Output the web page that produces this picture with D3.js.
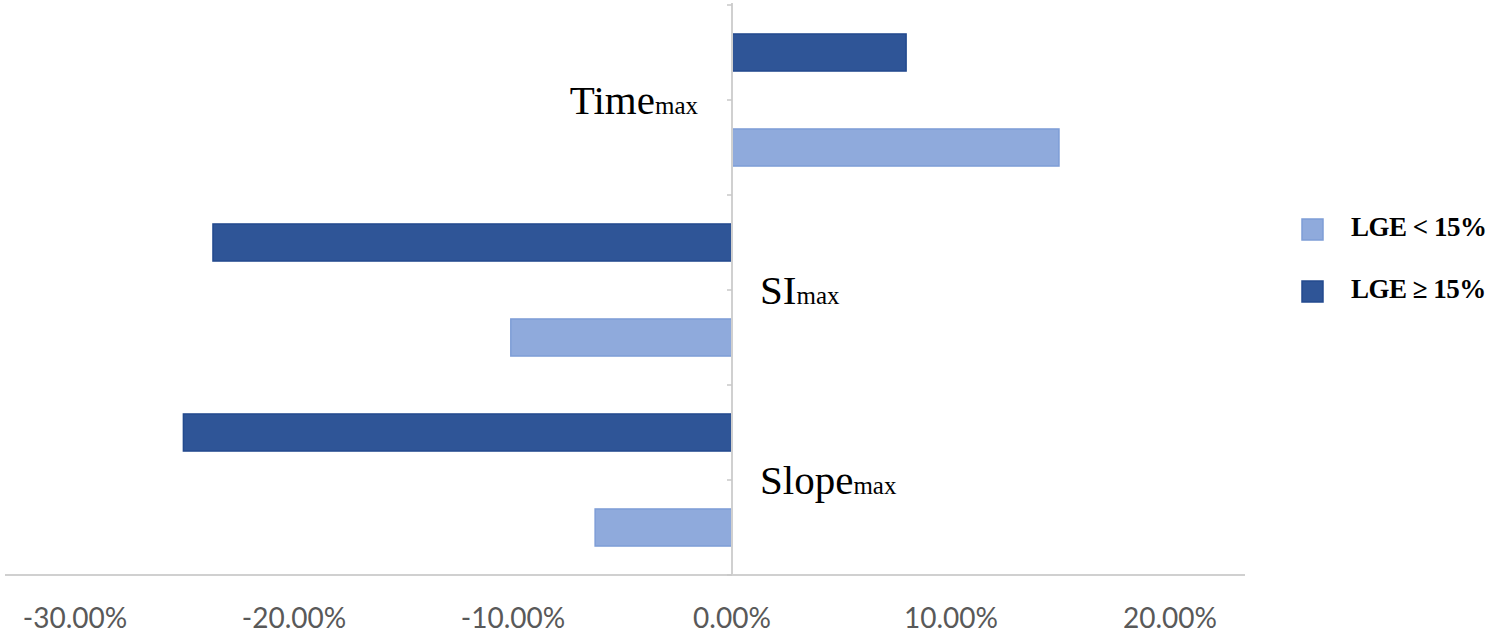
<!DOCTYPE html>
<html>
<head>
<meta charset="utf-8">
<script src="https://cdn.jsdelivr.net/npm/d3@7"></script>
<style>
  html, body { margin: 0; padding: 0; background: #ffffff; }
  svg { display: block; }
</style>
</head>
<body>
<svg id="chart" width="1500" height="640"></svg>
<script>
// ---- data ----
const categories = ["Time", "SI", "Slope"];
const seriesNames = ["LGE ≥ 15%", "LGE < 15%"];       // order of bars inside each category (top, bottom)
const valuesHigh = [7.95, -23.7, -25.05];           // LGE ≥ 15% (%)
const valuesLow  = [14.93, -10.1, -6.25];           // LGE < 15% (%)
const xTicks = [-30, -20, -10, 0, 10, 20];
const legendOrder = ["LGE < 15%", "LGE ≥ 15%"];

const colors = { "LGE ≥ 15%": "#2F5597", "LGE < 15%": "#8FAADC" };
const strokes = { "LGE ≥ 15%": "#234A8E", "LGE < 15%": "#7E9DD6" };

const svg = d3.select("#chart");

const x = d3.scaleLinear().domain([-30, 20]).range([75, 1170]);
const y0 = d3.scaleBand().domain(categories).range([5, 575]).padding(0);
const y1 = d3.scaleBand().domain(seriesNames).range([0, y0.bandwidth()])
  .paddingInner(0.61).paddingOuter(0.305);

const rows = [];
categories.forEach((c, i) => {
  rows.push({ cat: c, series: "LGE ≥ 15%", value: valuesHigh[i] });
  rows.push({ cat: c, series: "LGE < 15%", value: valuesLow[i] });
});

// horizontal axis line
svg.append("line")
  .attr("x1", 5).attr("x2", 1245)
  .attr("y1", 575).attr("y2", 575)
  .attr("stroke", "#d0d0d0").attr("stroke-width", 2);

// bars
svg.append("g").selectAll("rect").data(rows).join("rect")
  .attr("x", d => Math.min(x(0), x(d.value)))
  .attr("width", d => Math.abs(x(d.value) - x(0)))
  .attr("y", d => y0(d.cat) + y1(d.series))
  .attr("height", y1.bandwidth())
  .attr("fill", d => colors[d.series])
  .attr("stroke", d => strokes[d.series])
  .attr("stroke-width", 1.5);

// vertical axis at zero
const zx = x(0);
svg.append("line")
  .attr("x1", zx).attr("x2", zx)
  .attr("y1", y0.range()[0] - 2).attr("y2", y0.range()[1])
  .attr("stroke", "#d0d0d0").attr("stroke-width", 2);

// small ticks on vertical axis, one per bar slot boundary
const tickYs = [];
categories.forEach(c => { tickYs.push(y0(c)); tickYs.push(y0(c) + y1.step()); });
tickYs.push(y0.range()[1]);
svg.append("g").selectAll("line").data(tickYs).join("line")
  .attr("x1", zx - 5).attr("x2", zx)
  .attr("y1", d => d).attr("y2", d => d)
  .attr("stroke", "#c8c8c8").attr("stroke-width", 1.5);

// x tick labels
svg.append("g").selectAll("text").data(xTicks).join("text")
  .attr("x", d => x(d))
  .attr("y", 628)
  .attr("text-anchor", "middle")
  .attr("font-family", "Lato, 'Open Sans', sans-serif")
  .attr("font-size", 28)
  .attr("fill", "#595959")
  .text(d => d3.format(".2f")(d).replace("\u2212", "-") + "%");

// category labels
categories.forEach((c, i) => {
  const positive = valuesHigh[i] + valuesLow[i] > 0;
  const by = y0(c) + y1.step() + 14;
  const t = svg.append("text")
    .attr("x", positive ? zx - 34 : zx + 28)
    .attr("y", by)
    .attr("text-anchor", positive ? "end" : "start")
    .attr("font-family", "'Liberation Serif', 'Times New Roman', serif")
    .attr("fill", "#000");
  t.append("tspan").attr("font-size", 41).text(c);
  t.append("tspan").attr("font-size", 25).text("max");
});

// legend
const lg = svg.append("g");
legendOrder.forEach((s, i) => {
  const ly = 219 + i * 62;
  lg.append("rect")
    .attr("x", 1302).attr("y", ly)
    .attr("width", 21).attr("height", 21)
    .attr("fill", colors[s]).attr("stroke", strokes[s]).attr("stroke-width", 1.5);
  lg.append("text")
    .attr("x", 1351).attr("y", ly + 17)
    .attr("font-family", "'Liberation Serif', 'Times New Roman', serif")
    .attr("font-weight", "bold")
    .attr("font-size", 27)
    .attr("letter-spacing", -0.5)
    .attr("fill", "#000")
    .text(s);
});
</script>
</body>
</html>
